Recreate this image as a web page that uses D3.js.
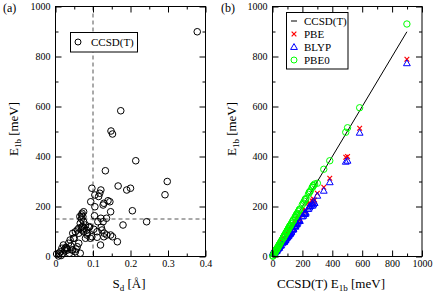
<!DOCTYPE html>
<html><head><meta charset="utf-8">
<script src="https://cdn.jsdelivr.net/npm/d3@7"></script>
<style>
body{margin:0;background:#fff;}
svg{display:block;}
text{font-family:"Liberation Serif","DejaVu Serif",serif;fill:#000;}
</style></head>
<body>
<svg id="c" width="436" height="297"></svg>
<script>
// ---- data ----
const sd   = [0.378,0.174,0.148,0.152,0.214,0.133,0.298,0.292,0.167,0.190,0.200,0.097,0.105,0.118,0.121,0.115,0.094,0.127,0.129,0.140,0.145,0.147,0.105,0.205,0.243,0.180,0.121,0.136,0.113,0.127,0.071,0.073,0.075,0.104,0.075,0.066,0.080,0.091,0.062,0.071,0.053,0.062,0.075,0.111,0.124,0.084,0.097,0.111,0.129,0.137,0.147,0.165,0.152,0.048,0.039,0.120,0.035,0.021,0.030,0.017,0.044,0.053,0.066,0.013,0.026,0.003,0.008,0.069,0.069,0.058,0.046,0.050,0.041,0.028,0.024,0.032,0.046,0.019,0.037,0.055,0.010,0.015,0.058,0.062,0.085,0.083,0.089,0.102,0.093,0.080,0.130,0.122,0.072,0.077,0.065,0.070];
const ccsd = [899,583,502,490,383,343,300,247,282,266,273,273,246,253,266,240,219,206,213,223,219,179,199,183,139,126,153,153,139,139,173,159,179,163,139,133,126,119,113,106,99,93,99,99,106,86,79,77,79,86,86,59,79,73,66,46,53,46,33,33,26,19,13,19,23,10,2,150,117,106,93,73,42,37,29,26,26,12,13,30,13,4,39,53,93,105,117,109,73,73,93,117,120,113,160,166];
const pbe  = [789,513,400,397,313,277,253,212,226,214,221,230,206,213,222,200,185,172,180,186,181,151,168,152,116,104,129,127,117,116,147,135,153,137,118,113,107,100,96,90,84,79,84,83,88,73,67,64,66,72,71,49,65,63,57,38,46,41,30,31,23,17,12,22,22,17,8,128,99,91,80,62,37,33,27,24,23,15,13,26,18,10,34,46,79,89,99,91,62,62,78,98,102,96,136,141];
const blyp = [773,495,383,379,297,263,243,201,214,203,208,219,196,202,211,190,176,163,171,175,170,143,160,142,108,97,122,119,110,109,140,128,146,129,111,107,100,94,90,85,79,74,78,77,82,68,62,59,61,66,65,45,60,59,53,35,44,40,31,32,22,17,11,26,24,24,14,121,93,86,76,58,35,33,28,24,22,20,14,25,25,18,32,43,73,83,92,85,57,58,72,91,96,90,129,134];
const pbe0 = [930,595,515,497,383,349,293,258,290,276,283,284,256,262,277,249,228,214,221,232,227,186,207,190,145,131,159,158,144,145,180,165,186,170,145,138,131,124,118,110,103,97,103,103,110,89,82,80,82,89,90,62,82,76,68,48,55,48,34,34,27,20,14,19,24,9,1,156,121,110,96,75,44,38,30,27,27,12,13,31,13,3,40,55,97,109,122,113,76,76,97,122,125,117,166,173];
const yTicks = [0,200,400,600,800,1000];
const yMinor = [100,300,500,700,900];
const xTicksA = [0,0.1,0.2,0.3,0.4];
const xMinorA = [0.05,0.15,0.25,0.35];
const xTicksB = [0,200,400,600,800,1000];
const xMinorB = [100,300,500,700,900];
const dashX = 0.1, dashY = 150;

const svg = d3.select("#c");
const yTop = 6.5, yBot = 256.5;
const y = d3.scaleLinear().domain([0,1000]).range([yBot, yTop]);
const xa = d3.scaleLinear().domain([0,0.4]).range([55.5,205.5]);
const xb = d3.scaleLinear().domain([0,1000]).range([272.5,422]);
const FONT = "Liberation Serif, DejaVu Serif, serif";

function frame(x, major, minor, fmtX){
  const g = svg.append("g");
  const [l,r] = x.range();
  g.append("g").attr("transform",`translate(0,${yBot})`)
   .call(d3.axisBottom(x).tickValues(major).tickSize(-6).tickSizeOuter(0).tickPadding(3).tickFormat(fmtX));
  g.append("g").attr("transform",`translate(0,${yBot})`)
   .call(d3.axisBottom(x).tickValues(minor).tickSize(-3).tickSizeOuter(0).tickFormat(""));
  g.append("g").attr("transform",`translate(0,${yTop})`)
   .call(d3.axisTop(x).tickValues(major).tickSize(-6).tickSizeOuter(0).tickFormat(""));
  g.append("g").attr("transform",`translate(0,${yTop})`)
   .call(d3.axisTop(x).tickValues(minor).tickSize(-3).tickSizeOuter(0).tickFormat(""));
  g.append("g").attr("transform",`translate(${l},0)`)
   .call(d3.axisLeft(y).tickValues(yTicks).tickSize(-6).tickSizeOuter(0).tickPadding(5).tickFormat(d3.format("d")));
  g.append("g").attr("transform",`translate(${l},0)`)
   .call(d3.axisLeft(y).tickValues(yMinor).tickSize(-3).tickSizeOuter(0).tickFormat(""));
  g.append("g").attr("transform",`translate(${r},0)`)
   .call(d3.axisRight(y).tickValues(yTicks).tickSize(-6).tickSizeOuter(0).tickFormat(""));
  g.append("g").attr("transform",`translate(${r},0)`)
   .call(d3.axisRight(y).tickValues(yMinor).tickSize(-3).tickSizeOuter(0).tickFormat(""));
  g.selectAll(".domain").remove();
  g.selectAll("g").attr("font-family",FONT);
  g.selectAll("text").attr("font-size",10).style("font-family",FONT);
  g.selectAll(".tick line").attr("stroke","#000");
  g.append("rect").attr("x",l).attr("y",yTop).attr("width",r-l).attr("height",yBot-yTop)
   .attr("fill","none").attr("stroke","#000").attr("stroke-width",1);
  return g;
}

// ---------- panel (a) ----------
const ga = svg.append("g");
ga.append("line").attr("x1",xa(dashX)).attr("x2",xa(dashX)).attr("y1",yTop).attr("y2",yBot)
  .attr("stroke","#555").attr("stroke-dasharray","4,3");
ga.append("line").attr("x1",xa.range()[0]).attr("x2",xa.range()[1]).attr("y1",y(dashY)).attr("y2",y(dashY))
  .attr("stroke","#555").attr("stroke-dasharray","4,3");
ga.selectAll("circle.p").data(d3.range(sd.length)).join("circle")
  .attr("cx",i=>xa(sd[i])).attr("cy",i=>y(ccsd[i])).attr("r",3.3)
  .attr("fill","none").attr("stroke","#000").attr("stroke-width",1);
frame(xa, xTicksA, xMinorA, d=>d===0?"0":d3.format(".1f")(d));

// legend (a)
svg.append("rect").attr("x",70.5).attr("y",32.5).attr("width",67).attr("height",19.5)
  .attr("fill","#fff").attr("stroke","#000");
svg.append("circle").attr("cx",78).attr("cy",42).attr("r",3).attr("fill","none").attr("stroke","#000");
svg.append("text").attr("x",91).attr("y",46).attr("font-size",11).text("CCSD(T)");

// ---------- panel (b) ----------
const gb = svg.append("g");
const order = d3.range(ccsd.length).sort((a,b)=>ccsd[a]-ccsd[b]);
gb.append("path").datum(order).attr("fill","none").attr("stroke","#000").attr("stroke-width",1)
  .attr("d", d3.line().x(i=>xb(ccsd[i])).y(i=>y(ccsd[i])));
const cross = d3.symbol().type(d3.symbolX).size(16);
const tri = d3.symbol().type(d3.symbolTriangle).size(20);
gb.selectAll("path.pbe").data(d3.range(pbe.length)).join("path").attr("class","pbe")
  .attr("d",cross).attr("transform",i=>`translate(${xb(ccsd[i])},${y(pbe[i])})`)
  .attr("fill","none").attr("stroke","#ff0000").attr("stroke-width",1.2);
gb.selectAll("path.blyp").data(d3.range(blyp.length)).join("path").attr("class","blyp")
  .attr("d",tri).attr("transform",i=>`translate(${xb(ccsd[i])},${y(blyp[i])+0.5})`)
  .attr("fill","none").attr("stroke","#0000ff").attr("stroke-width",1);
gb.selectAll("circle.pbe0").data(d3.range(pbe0.length)).join("circle").attr("class","pbe0")
  .attr("cx",i=>xb(ccsd[i])).attr("cy",i=>y(pbe0[i])).attr("r",3.2)
  .attr("fill","none").attr("stroke","#00ff00").attr("stroke-width",1);
frame(xb, xTicksB, xMinorB, d3.format("d"));

// legend (b)
svg.append("rect").attr("x",286.5).attr("y",12.5).attr("width",61.5).attr("height",56.5)
  .attr("fill","#fff").attr("stroke","#000");
const legY = [21,34,47,60];
const legT = ["CCSD(T)","PBE","BLYP","PBE0"];
svg.append("line").attr("x1",291).attr("x2",297).attr("y1",legY[0]).attr("y2",legY[0]).attr("stroke","#000");
svg.append("path").attr("d",cross).attr("transform",`translate(294,${legY[1]})`).attr("fill","none").attr("stroke","#ff0000").attr("stroke-width",1.2);
svg.append("path").attr("d",tri).attr("transform",`translate(294,${legY[2]+0.5})`).attr("fill","none").attr("stroke","#0000ff");
svg.append("circle").attr("cx",294).attr("cy",legY[3]).attr("r",3).attr("fill","none").attr("stroke","#00ff00");
legT.forEach((t,k)=>svg.append("text").attr("x",304).attr("y",legY[k]+4).attr("font-size",11).text(t));

// ---------- labels ----------
svg.append("text").attr("x",3).attr("y",12).attr("font-size",12).text("(a)");
svg.append("text").attr("x",221).attr("y",12).attr("font-size",12).text("(b)");
function ylab(x){
  const t = svg.append("text").attr("transform",`translate(${x},129) rotate(-90)`)
    .attr("text-anchor","middle").attr("font-size",13);
  t.append("tspan").text("E");
  t.append("tspan").attr("font-size",9).attr("dy",3).text("1b");
  t.append("tspan").attr("dy",-3).text(" [meV]");
}
ylab(18); ylab(236);
const xl1 = svg.append("text").attr("x",129).attr("y",288).attr("text-anchor","middle").attr("font-size",13);
xl1.append("tspan").text("S");
xl1.append("tspan").attr("font-size",9).attr("dy",3).text("d");
xl1.append("tspan").attr("dy",-3).text(" [Å]");
const xl2 = svg.append("text").attr("x",331).attr("y",288).attr("text-anchor","middle").attr("font-size",13);
xl2.append("tspan").text("CCSD(T) E");
xl2.append("tspan").attr("font-size",9).attr("dy",3).text("1b");
xl2.append("tspan").attr("dy",-3).text(" [meV]");
</script>
</body></html>
